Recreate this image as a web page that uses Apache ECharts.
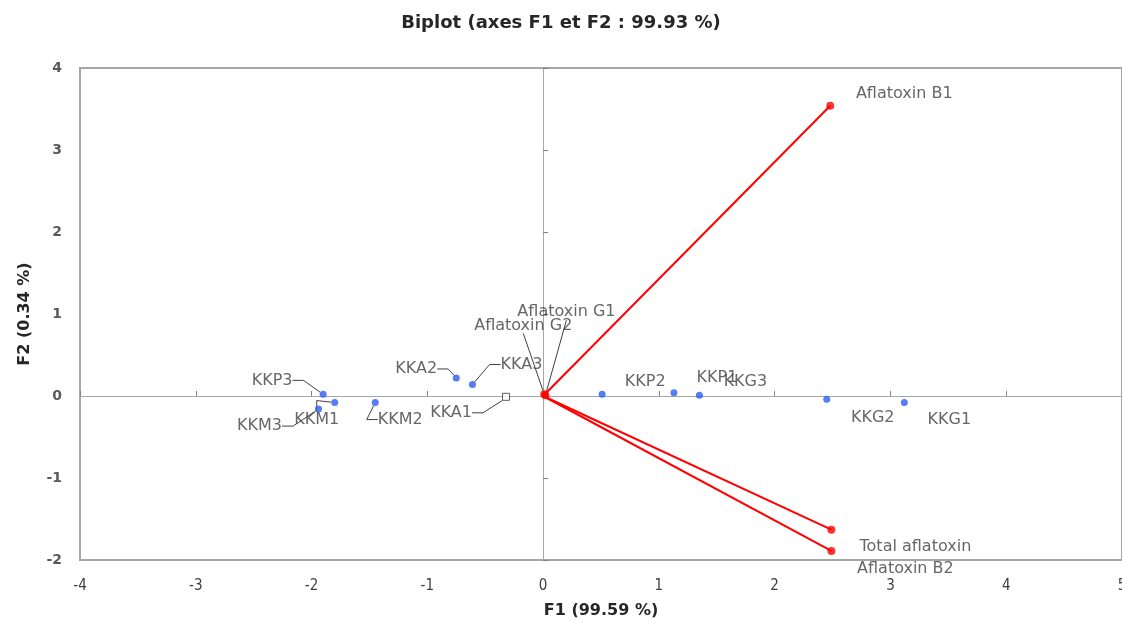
<!DOCTYPE html>
<html>
<head>
<meta charset="utf-8">
<title>Biplot</title>
<script src="https://cdn.jsdelivr.net/npm/echarts@6/dist/echarts.min.js"></script>
<style>
  html, body { margin: 0; padding: 0; background: #fff; }
  #main { width: 1122px; height: 622px; }
</style>
</head>
<body>
<div id="main"></div>
<script>
// observations (F1, F2)
const obsNames = ['KKP3', 'KKM1', 'KKM3', 'KKM2', 'KKA2', 'KKA3', 'KKP2', 'KKP1', 'KKG3', 'KKG2', 'KKG1'];
const obsF1 = [-1.90, -1.80, -1.94, -1.45, -0.75, -0.61, 0.51, 1.13, 1.35, 2.45, 3.12];
const obsF2 = [0.02, -0.08, -0.16, -0.08, 0.22, 0.14, 0.02, 0.04, 0.01, -0.04, -0.08];
// supplementary observation (open square)
const supNames = ['KKA1'];
const supF1 = [-0.32];
const supF2 = [-0.01];
// variables (vectors from origin)
const varNames = ['Aflatoxin B1', 'Total aflatoxin', 'Aflatoxin B2', 'Aflatoxin G1', 'Aflatoxin G2'];
const varF1 = [2.48, 2.49, 2.49, 0.02, 0.01];
const varF2 = [3.54, -1.63, -1.89, 0.01, 0.02];
// axis ranges
const xRange = [-4, 5];
const yRange = [-2, 4];

// where each label sits relative to its point (px)
const labelShift = {
  KKP3: [-51, -14], KKM1: [-18, 17], KKM3: [-59, 17], KKM2: [25, 17],
  KKA2: [-40, -9], KKA3: [49, -20], KKA1: [-55, 16],
  KKP2: [43, -13], KKP1: [43, -15], KKG3: [46, -13], KKG2: [46, 19], KKG1: [45, 17],
  'Aflatoxin B1': [74, -12], 'Total aflatoxin': [84, 17], 'Aflatoxin B2': [74, 18],
  'Aflatoxin G1': [21, -83], 'Aflatoxin G2': [-21, -69]
};
const withGuide = ['KKP3', 'KKM1', 'KKM3', 'KKM2', 'KKA2', 'KKA3', 'KKA1'];
const withStraightGuide = ['Aflatoxin G1', 'Aflatoxin G2'];

const labelFont = {
  show: true,
  position: 'inside',
  color: '#404040',
  fontFamily: 'DejaVu Sans',
  fontSize: 16
};

function pts(names, xs, ys) {
  let out = [];
  for (let i = 0; i < names.length; ++i) {
    let guide = withGuide.indexOf(names[i]) >= 0;
    let straight = withStraightGuide.indexOf(names[i]) >= 0;
    out.push({
      name: names[i],
      value: [xs[i], ys[i]],
      labelLine: {
        show: guide || straight,
        length2: straight ? 0 : 11,
        lineStyle: { color: '#404040', width: 1 }
      }
    });
  }
  return out;
}

function shiftLabel(p) {
  const s = labelShift[p.text];
  return s ? { dx: s[0], dy: s[1] } : {};
}

var myChart = echarts.init(document.getElementById('main'));

var option = {
  animation: false,
  backgroundColor: '#fff',
  title: {
    text: 'Biplot (axes F1 et F2 : 99.93 %)',
    left: 'center',
    top: 9,
    textStyle: { fontFamily: 'DejaVu Sans', fontSize: 18, fontWeight: 'bold', color: '#262626' }
  },
  grid: {
    left: 80, right: 0, top: 68, bottom: 62,
    outerBoundsMode: 'none',
    containLabel: false,
    show: true,
    borderColor: '#a6a6a6',
    borderWidth: 2
  },
  xAxis: [{
    type: 'value',
    min: xRange[0], max: xRange[1], interval: 1,
    position: 'bottom',
    name: 'F1 (99.59 %)',
    nameLocation: 'middle',
    nameGap: 43,
    nameTextStyle: { fontFamily: 'DejaVu Sans', fontSize: 16, fontWeight: 'bold', color: '#262626' },
    axisLine: { show: false, onZero: false },
    axisTick: { show: false },
    splitLine: { show: false },
    axisLabel: { margin: 19, fontFamily: 'Liberation Sans Narrow, DejaVu Sans Condensed, Liberation Sans', fontSize: 15, color: '#404040' }
  }, {
    type: 'value',
    min: xRange[0], max: xRange[1], interval: 1,
    axisLine: { show: true, onZero: true, lineStyle: { color: '#a6a6a6', width: 1 } },
    axisTick: { show: true, length: 5, lineStyle: { color: '#808080' } },
    axisLabel: { show: false },
    splitLine: { show: false }
  }],
  yAxis: [{
    type: 'value',
    min: yRange[0], max: yRange[1], interval: 1,
    position: 'left',
    name: 'F2 (0.34 %)',
    nameLocation: 'middle',
    nameGap: 47,
    nameTextStyle: { fontFamily: 'DejaVu Sans', fontSize: 16, fontWeight: 'bold', color: '#262626' },
    axisLine: { show: false, onZero: false },
    axisTick: { show: false },
    splitLine: { show: false },
    axisLabel: { margin: 18, fontFamily: 'DejaVu Sans', fontSize: 14, fontWeight: 'bold', color: '#595959' }
  }, {
    type: 'value',
    min: yRange[0], max: yRange[1], interval: 1,
    axisLine: { show: true, onZero: true, lineStyle: { color: '#a6a6a6', width: 1 } },
    axisTick: { show: true, length: 5, lineStyle: { color: '#808080' } },
    axisLabel: { show: false },
    splitLine: { show: false }
  }],
  series: [{
    // variable vectors
    type: 'lines',
    coordinateSystem: 'cartesian2d',
    silent: true,
    z: 3,
    data: varNames.map((n, i) => ({ coords: [[0, 0], [varF1[i], varF2[i]]] })),
    lineStyle: { color: '#ff0000', width: 2, opacity: 1 }
  }, {
    type: 'scatter',
    name: 'variables',
    z: 4,
    symbol: 'circle',
    symbolSize: 8,
    itemStyle: { color: '#ff0000' },
    data: pts(varNames, varF1, varF2),
    label: Object.assign({ formatter: '{b}' }, labelFont),
    labelLayout: shiftLabel
  }, {
    type: 'scatter',
    name: 'observations',
    z: 5,
    symbol: 'circle',
    symbolSize: 7,
    itemStyle: { color: '#2b5cf2' },
    data: pts(obsNames, obsF1, obsF2),
    label: Object.assign({ formatter: '{b}' }, labelFont),
    labelLayout: shiftLabel
  }, {
    type: 'scatter',
    name: 'supplementary',
    z: 5,
    symbol: 'rect',
    symbolSize: 7,
    itemStyle: { color: '#ffffff', borderColor: '#333333', borderWidth: 1 },
    data: pts(supNames, supF1, supF2),
    label: Object.assign({ formatter: '{b}' }, labelFont),
    labelLayout: shiftLabel
  }]
};

myChart.setOption(option, true);
</script>
</body>
</html>
